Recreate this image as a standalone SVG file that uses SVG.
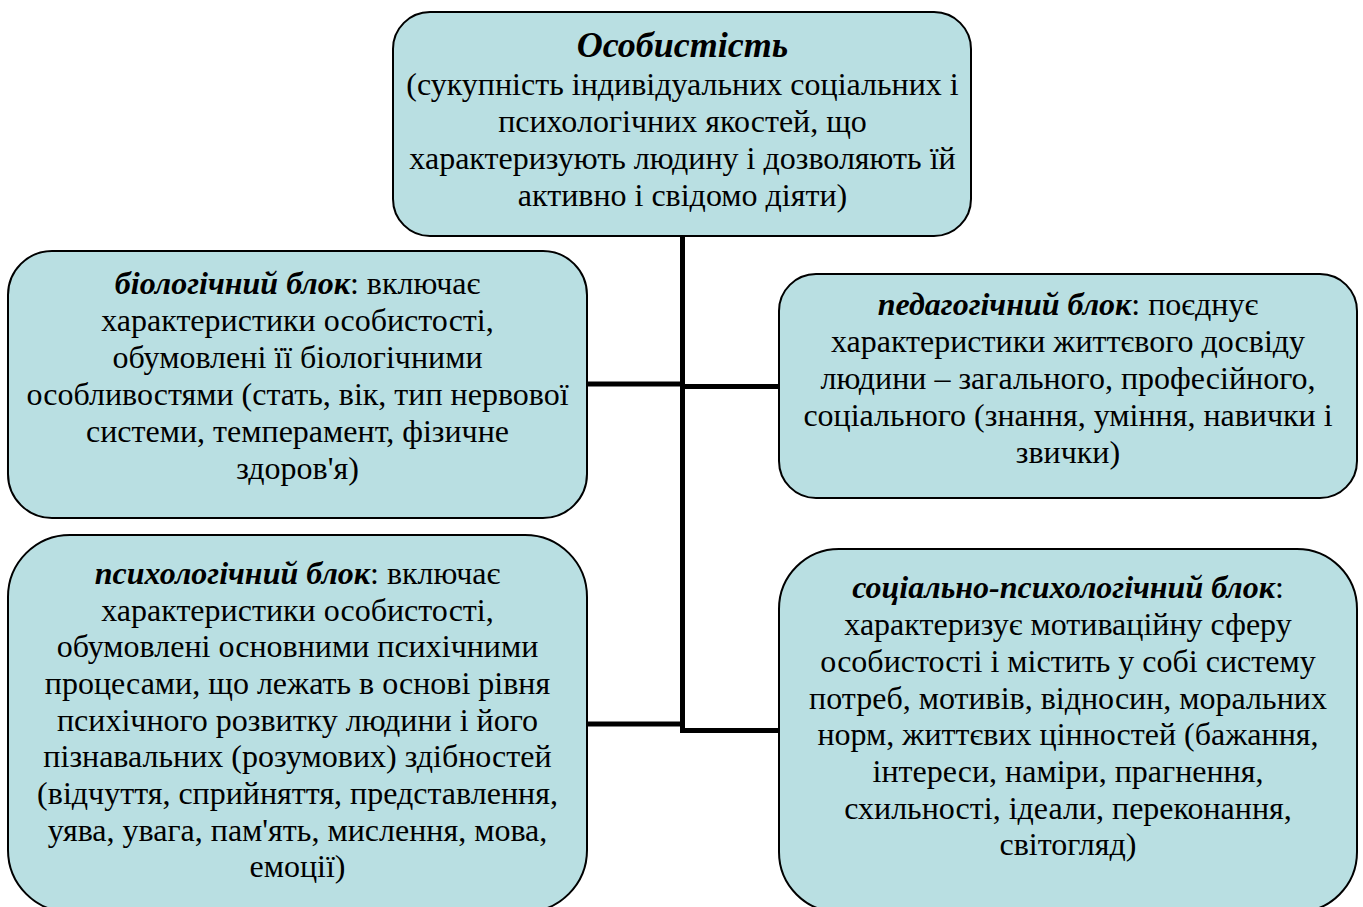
<svg xmlns="http://www.w3.org/2000/svg" width="1363" height="907" viewBox="0 0 1363 907">
<style>
.box{fill:#b9dfe2;stroke:#000;stroke-width:2}
.t{font-family:'Liberation Serif',serif;font-size:32px;fill:#000;text-anchor:middle}
.bi{font-weight:bold;font-style:italic}
.conn{stroke:#000;stroke-width:5;fill:none}
</style>
<rect width="1363" height="907" fill="#fff"/>
<g id="connectors">
<line class="conn" x1="682.5" y1="236" x2="682.5" y2="733"/>
<line class="conn" x1="587" y1="384" x2="682.5" y2="384"/>
<line class="conn" x1="682.5" y1="386.5" x2="779" y2="386.5"/>
<line class="conn" x1="587" y1="724" x2="682.5" y2="724"/>
<line class="conn" x1="680" y1="730.5" x2="779" y2="730.5"/>
</g>
<g id="top">
<rect class="box" x="393" y="12" width="578" height="224" rx="37"/>
<text class="t" font-family="Liberation Serif"><tspan class="bi" x="682.5" y="57" font-size="36">Особистість</tspan><tspan x="682.5" y="95">(сукупність індивідуальних соціальних і</tspan><tspan x="682.5" y="132">психологічних якостей, що</tspan><tspan x="682.5" y="169">характеризують людину і дозволяють їй</tspan><tspan x="682.5" y="206">активно і свідомо діяти)</tspan></text>
</g>
<g id="bio">
<rect class="box" x="8" y="251" width="579" height="267" rx="44"/>
<text class="t" font-family="Liberation Serif"><tspan x="297.5" y="294"><tspan class="bi">біологічний блок</tspan>: включає</tspan><tspan x="297.5" y="331">характеристики особистості,</tspan><tspan x="297.5" y="368">обумовлені її біологічними</tspan><tspan x="297.5" y="405">особливостями (стать, вік, тип нервової</tspan><tspan x="297.5" y="442">системи, темперамент, фізичне</tspan><tspan x="297.5" y="479">здоров'я)</tspan></text>
</g>
<g id="ped">
<rect class="box" x="779" y="274" width="578" height="224" rx="37"/>
<text class="t" font-family="Liberation Serif"><tspan x="1068" y="314.5"><tspan class="bi">педагогічний блок</tspan>: поєднує</tspan><tspan x="1068" y="351.5">характеристики життєвого досвіду</tspan><tspan x="1068" y="388.5">людини – загального, професійного,</tspan><tspan x="1068" y="425.5">соціального (знання, уміння, навички і</tspan><tspan x="1068" y="462.5">звички)</tspan></text>
</g>
<g id="psy">
<rect class="box" x="8" y="535" width="579" height="377" rx="62"/>
<text class="t" font-family="Liberation Serif"><tspan x="297.5" y="584"><tspan class="bi">психологічний блок</tspan>: включає</tspan><tspan x="297.5" y="620.5">характеристики особистості,</tspan><tspan x="297.5" y="657">обумовлені основними психічними</tspan><tspan x="297.5" y="694">процесами, що лежать в основі рівня</tspan><tspan x="297.5" y="730.5">психічного розвитку людини і його</tspan><tspan x="297.5" y="767">пізнавальних (розумових) здібностей</tspan><tspan x="297.5" y="804">(відчуття, сприйняття, представлення,</tspan><tspan x="297.5" y="840.5">уява, увага, пам'ять, мислення, мова,</tspan><tspan x="297.5" y="877">емоції)</tspan></text>
</g>
<g id="socpsy">
<rect class="box" x="779" y="549" width="578" height="363" rx="60"/>
<text class="t" font-family="Liberation Serif"><tspan x="1068" y="597.5"><tspan class="bi">соціально-психологічний блок</tspan>:</tspan><tspan x="1068" y="635">характеризує мотиваційну сферу</tspan><tspan x="1068" y="671.5">особистості і містить у собі систему</tspan><tspan x="1068" y="708.5">потреб, мотивів, відносин, моральних</tspan><tspan x="1068" y="745">норм, життєвих цінностей (бажання,</tspan><tspan x="1068" y="782">інтереси, наміри, прагнення,</tspan><tspan x="1068" y="818.5">схильності, ідеали, переконання,</tspan><tspan x="1068" y="855">світогляд)</tspan></text>
</g>
</svg>
